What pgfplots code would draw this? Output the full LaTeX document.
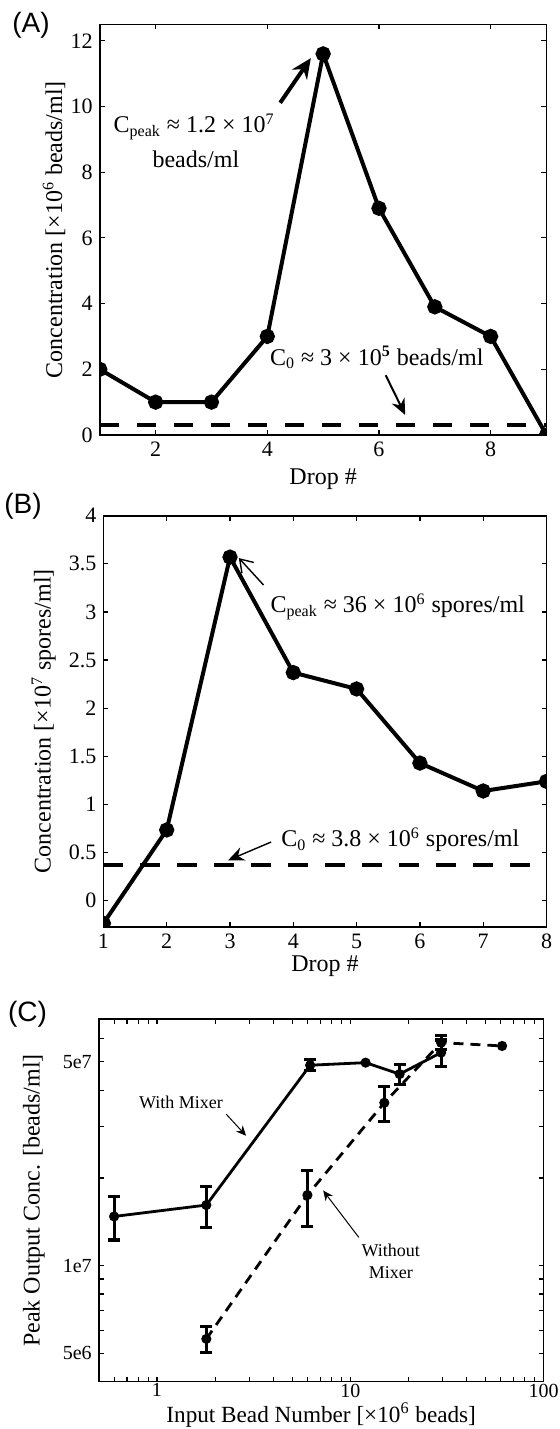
\documentclass[border=0pt]{standalone}
\usepackage{fontspec}
\setmainfont{Liberation Serif}
\newfontfamily\panelfont{Liberation Sans}
\usepackage{pgfplots}
\pgfplotsset{compat=1.18}
\usetikzlibrary{arrows.meta}

\pgfplotsset{
  matlab/.style={
    scale only axis, clip marker paths=true,
    axis line style={line width=0.8pt},
    tick align=inside, tick pos=both,
    major tick length=2.5pt, minor tick length=2.5pt,
    every tick/.style={black, line width=0.6pt},
    /pgf/number format/assume math mode=true,
    ticklabel style={font=\fontsize{11}{12}\selectfont},
    label style={font=\fontsize{12}{14}\selectfont},
  }}
\newcommand{\annot}{\fontsize{12}{14}\selectfont}

\begin{document}
\begin{tikzpicture}

% ---------------- (A) ----------------
\begin{axis}[matlab, at={(49.9pt,-12.15pt)}, anchor=north west,
  width=223.35pt, height=205.35pt,
  xmin=1, xmax=9, ymin=0, ymax=12.5,
  xtick={2,4,6,8}, ytick={0,2,...,12},
  xlabel={Drop \#},
  ylabel={Concentration [×10\textsuperscript{6} beads/ml]},
  xlabel style={at={(axis description cs:0.5,-0.107)}, anchor=center},
  ylabel style={at={(axis description cs:-0.1025,0.5)}, anchor=center},
]
\addplot[black, line width=2pt, dash pattern=on 9.5pt off 9pt] coordinates {(1,0.3) (9,0.3)};
\addplot[black, line width=2pt, mark=*, mark size=2.8pt] coordinates
  {(1,2) (2,1) (3,1) (4,3) (5,11.6) (6,6.9) (7,3.9) (8,3) (9,0)};
\node[anchor=base, font=\annot] at (axis cs:2.69,9.2) {C\textsubscript{peak} ≈ 1.2 × 10\textsuperscript{7}};
\node[anchor=base, font=\annot] at (axis cs:2.72,8.14) {beads/ml};
\draw[-{Stealth[length=10pt,width=9pt]}, line width=2pt] (axis cs:4.23,10.11) -- (axis cs:4.78,11.47);
\node[anchor=base, font=\annot] at (axis cs:5.96,2.12) {C\textsubscript{0} ≈ 3 × 10\textsuperscript{\textbf{5}} beads/ml};
\draw[-{Stealth[length=8pt,width=7pt]}, line width=1pt] (axis cs:6.12,1.82) -- (axis cs:6.47,0.61);
\end{axis}

% ---------------- (B) ----------------
\begin{axis}[matlab, at={(51.7pt,-257.85pt)}, anchor=north west,
  width=221.55pt, height=205.5pt,
  xmin=1, xmax=8, ymin=-0.27, ymax=4,
  xtick={1,...,8}, ytick={0,0.5,...,4},
  xlabel={Drop \#},
  ylabel={Concentration [×10\textsuperscript{7} spores/ml]},
  xlabel style={at={(axis description cs:0.5,-0.0956)}, anchor=center},
  ylabel style={at={(axis description cs:-0.1347,0.5)}, anchor=center},
]
\addplot[black, line width=2pt, dash pattern=on 10pt off 8.5pt] coordinates {(1,0.37) (8,0.37)};
\addplot[black, line width=2pt, mark=*, mark size=2.8pt] coordinates
  {(1,-0.235) (2,0.735) (3,3.57) (4,2.37) (5,2.2) (6,1.43) (7,1.14) (8,1.24)};
\node[anchor=base, font=\annot] at (axis cs:5.65,2.99) {C\textsubscript{peak} ≈ 36 × 10\textsuperscript{6} spores/ml};
\draw[-{Straight Barb[length=6pt,width=8pt]}, line width=0.7pt] (axis cs:3.53,3.28) -- (axis cs:3.14,3.56);
\node[anchor=base, font=\annot] at (axis cs:5.69,0.56) {C\textsubscript{0} ≈ 3.8 × 10\textsuperscript{6} spores/ml};
\draw[-{Stealth[length=8pt,width=7pt]}, line width=0.7pt] (axis cs:3.65,0.61) -- (axis cs:2.97,0.42);
\end{axis}

% ---------------- (C) ----------------
\begin{axis}[matlab, at={(49.4pt,-509.65pt)}, anchor=north west,
  width=222.4pt, height=181.2pt,
  xmode=log, ymode=log,
  xmin=0.5, xmax=100, ymin=4e6, ymax=7e7,
  xtick={1,10,100}, xticklabels={1,10,100},
  minor xtick={0.6,0.7,0.8,0.9,2,3,4,5,6,7,8,9,20,30,40,50,60,70,80,90},
  ytick={5e6,1e7,5e7}, yticklabels={5e6,1e7,5e7},
  minor ytick={6e6,7e6,8e6,9e6,2e7,3e7,4e7,6e7},
  ticklabel style={font=\fontsize{10}{11}\selectfont},
  xticklabel style={yshift=2.5pt},
  xlabel={Input Bead Number [×10\textsuperscript{6} beads]},
  ylabel={Peak Output Conc. [beads/ml]},
  xlabel style={at={(axis description cs:0.5,-0.112)}, anchor=base, font=\fontsize{11.6}{13}\selectfont},
  ylabel style={at={(axis description cs:-0.1458,0.5)}, anchor=center},
]
% with mixer
\addplot[black, line width=1.4pt, mark=*, mark size=1.8pt] coordinates
  {(0.6,1.475e7) (1.8,1.614e7) (6.2,4.87e7) (12,4.97e7) (18,4.54e7) (29.5,5.38e7)};
\addplot[draw=none, mark=none, forget plot,
  error bars/.cd, y dir=both, y explicit,
  error bar style={draw=black, solid, line width=1.6pt},
  error mark options={draw=black, solid, rotate=90, mark size=3pt, line width=1.6pt}]
  coordinates {(0.6,1.475e7) +- (0,0.25e7) (1.8,1.614e7) +- (0,0.26e7)
    (6.2,4.87e7) +- (0,0.21e7) (18,4.54e7) +- (0,0.37e7) (29.5,5.38e7) +- (0,0.56e7)};
% without mixer
\addplot[black, line width=1.4pt, dash pattern=on 5pt off 3.5pt, mark=*, mark size=1.8pt, mark options={solid}] coordinates
  {(1.8,5.61e6) (6,1.746e7) (15,3.62e7) (29.5,5.82e7) (61,5.67e7)};
\addplot[draw=none, mark=none, forget plot,
  error bars/.cd, y dir=both, y explicit,
  error bar style={draw=black, solid, line width=1.6pt},
  error mark options={draw=black, solid, rotate=90, mark size=3pt, line width=1.6pt}]
  coordinates {(1.8,5.61e6) +- (0,0.57e6) (6,1.746e7) +- (0,0.38e7)
    (15,3.62e7) +- (0,0.5e7) (29.5,5.82e7) +- (0,0.32e7)};
\node[font=\fontsize{9}{10.8}\selectfont] at (axis cs:1.33,3.62e7) {With Mixer};
\draw[-{Stealth[length=5pt,width=4.5pt]}, line width=0.5pt] (axis cs:2.28,3.31e7) -- (axis cs:2.89,2.79e7);
\node[align=center, font=\fontsize{9}{10.8}\selectfont] at (axis cs:16.2,1.034e7) {Without\\Mixer};
\draw[-{Stealth[length=5pt,width=4.5pt]}, line width=0.5pt] (axis cs:11.07,1.25e7) -- (axis cs:7.24,1.81e7);
\end{axis}

\node[font=\panelfont\fontsize{14}{16}\selectfont] at (15.5pt,-12.5pt) {(A)};
\node[font=\panelfont\fontsize{14}{16}\selectfont] at (11.5pt,-253pt) {(B)};
\node[font=\panelfont\fontsize{14}{16}\selectfont] at (13.8pt,-507pt) {(C)};

\pgfresetboundingbox
\path[use as bounding box] (0,0) rectangle (279.5pt,-714.5pt);
\end{tikzpicture}
\end{document}
